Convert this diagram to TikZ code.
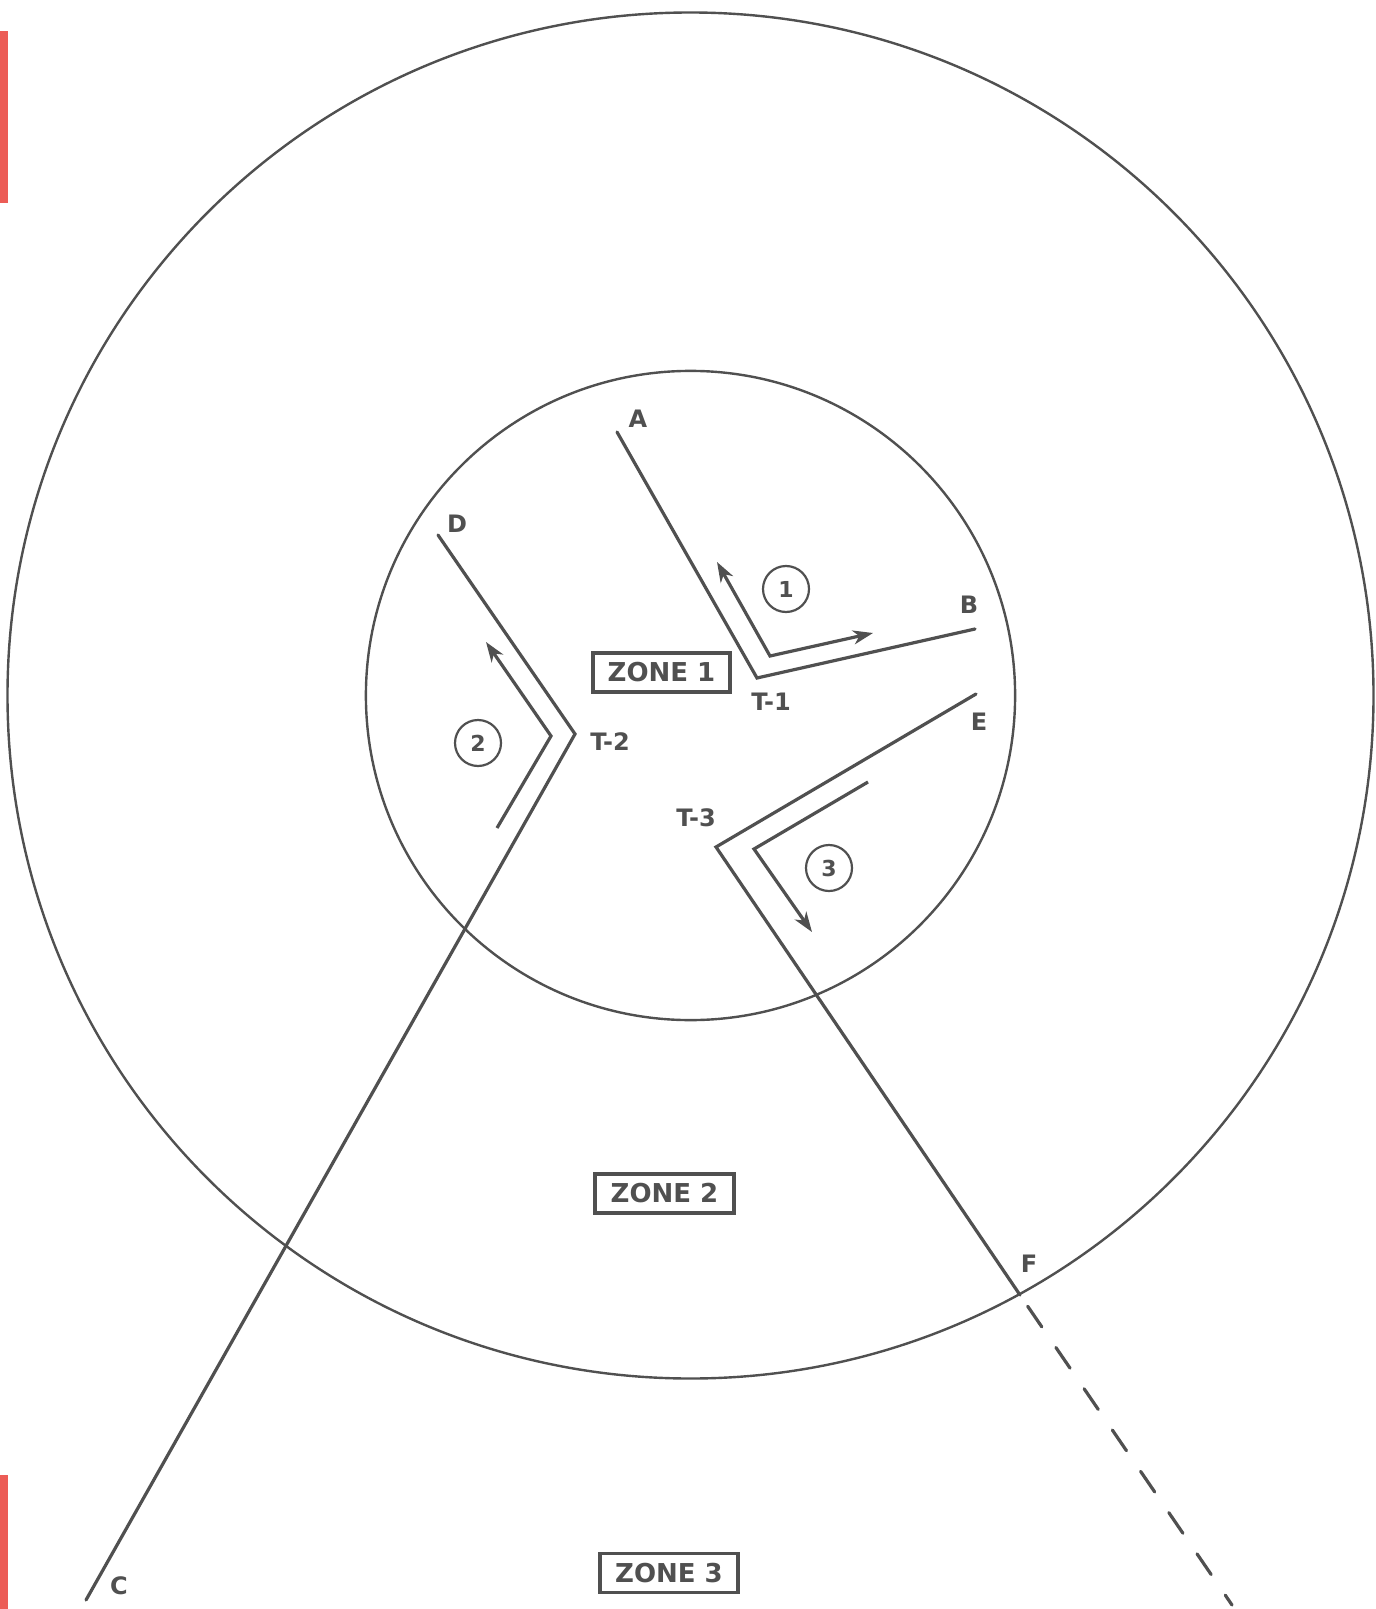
\documentclass[tikz,border=0pt]{standalone}
\usepackage{fontspec}
\setmainfont{DejaVu Sans}
\usetikzlibrary{arrows.meta}
\definecolor{ink}{RGB}{80,80,80}
\definecolor{redbar}{RGB}{236,92,86}
\tikzset{
  wall/.style={draw=ink, line width=1.6pt, line cap=round, line join=miter},
  ring/.style={draw=ink, line width=1.2pt},
  lbl/.style={text=ink, font=\bfseries\fontsize{12}{14}\selectfont, inner sep=0pt},
  zonebox/.style={draw=ink, line width=1.6pt, text=ink, inner sep=0pt,
    font=\bfseries\fontsize{13}{15}\selectfont, minimum height=19.5pt},
  num/.style={draw=ink, line width=1.1pt, circle, minimum size=23pt, inner sep=0pt,
    text=ink, font=\bfseries\fontsize{11}{13}\selectfont},
  mov/.style={draw=ink, line width=1.6pt, line join=miter},
  hd/.tip={Stealth[length=10pt,width=7pt,inset=3pt]},
  tip/.style={-hd},
}
\begin{document}
\begin{tikzpicture}[x=0.5pt,y=-0.5pt]
\useasboundingbox (0,0) rectangle (1375,1609);
\fill[white] (0,0) rectangle (1375,1609);
% red margin marks
\fill[redbar] (0,31) rectangle (8,203);
\fill[redbar] (0,1475) rectangle (8,1609);

% circles
\coordinate (O) at (690.5,695.5);
\draw[ring] (O) circle[radius=341.5pt];
\draw[ring] (O) circle[radius=162.3pt];

% corner and end points
\coordinate (pA) at (617,432);
\coordinate (pT1) at (757,678);
\coordinate (pB) at (975,629);
\coordinate (pD) at (438,535);
\coordinate (pT2) at (575,734);
\coordinate (pC) at (86,1600);
\coordinate (pE) at (976,694);
\coordinate (pT3) at (716,847);
\coordinate (pF) at (1020,1295);
\coordinate (pG) at (1232,1605);

% walls
\draw[wall] (pA) -- (pT1) -- (pB);
\draw[wall] (pD) -- (pT2) -- (pC);
\draw[wall] (pE) -- (pT3) -- (pF);
\draw[wall, dash pattern=on 12.5pt off 12.5pt, dash phase=18.2pt] (pF) -- (pG);

% movement arrows
\coordinate (m1a) at (717,562);
\coordinate (m1c) at (770,656);
\coordinate (m1b) at (873,633);
\draw[mov, hd-hd] (m1a) -- (m1c) -- (m1b);
\coordinate (m2s) at (497,828);
\coordinate (m2c) at (551,736);
\coordinate (m2t) at (486,642);
\draw[mov, tip] (m2s) -- (m2c) -- (m2t);
\coordinate (m3s) at (868,782);
\coordinate (m3c) at (754,849);
\coordinate (m3t) at (812,932);
\draw[mov, tip] (m3s) -- (m3c) -- (m3t);

% numbered circles
\node[num] (n1) at (786,589) {1};
\node[num] (n2) at (478,743) {2};
\node[num] (n3) at (829,868) {3};

% point labels
\node[lbl] (lA) at (638,419) {A};
\node[lbl] (lB) at (969,605) {B};
\node[lbl] (lC) at (119,1586) {C};
\node[lbl] (lD) at (457,524) {D};
\node[lbl] (lE) at (979,722) {E};
\node[lbl] (lF) at (1029,1264) {F};
\node[lbl] (lT1) at (771,702) {T-1};
\node[lbl] (lT2) at (610,742) {T-2};
\node[lbl] (lT3) at (696,818) {T-3};

% zone boxes
\node[zonebox, minimum width=68.5pt] (z1) at (661.5,672.5) {ZONE 1};
\node[zonebox, minimum width=69.5pt] (z2) at (664.5,1193.5) {ZONE 2};
\node[zonebox, minimum width=69pt] (z3) at (669,1573) {ZONE 3};
\end{tikzpicture}
\end{document}
